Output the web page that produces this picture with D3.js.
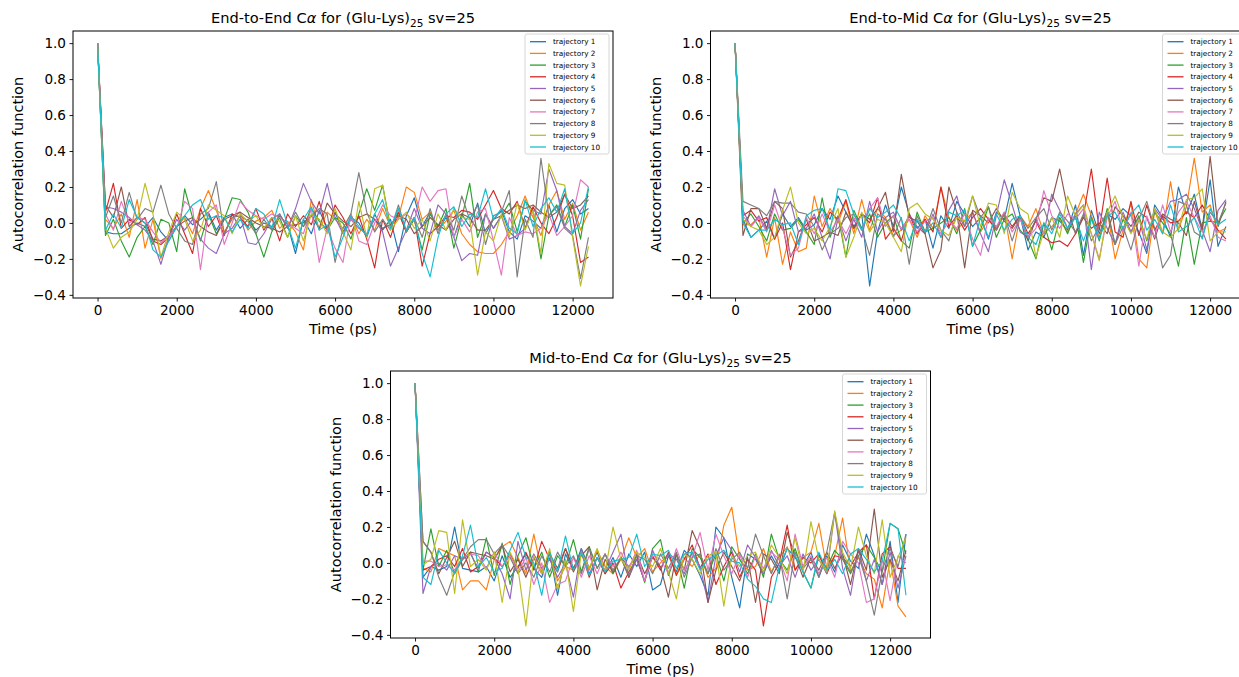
<!DOCTYPE html>
<html>
<head>
<meta charset="utf-8">
<script src="https://cdn.jsdelivr.net/npm/d3@7"></script>
<style>
  body { margin: 0; background: #fff; overflow: hidden; }
  svg { display: block; font-family: "DejaVu Sans", sans-serif; }
</style>
</head>
<body>
<svg id="chart" width="1239" height="677"></svg>
<script>
// sample times (ps), one point every 200 ps
const times = d3.range(0, 12600, 200);
const trajNames = ["trajectory 1", "trajectory 2", "trajectory 3", "trajectory 4", "trajectory 5",
  "trajectory 6", "trajectory 7", "trajectory 8", "trajectory 9", "trajectory 10"];
const xTicks = [0, 2000, 4000, 6000, 8000, 10000, 12000];
const yTicks = [-0.4, -0.2, 0.0, 0.2, 0.4, 0.6, 0.8, 1.0];

// End-to-End
const endEnd1 = [1.0,
  -0.05, -0.06, -0.06, -0.03, 0.00, -0.02, 0.03, -0.05, -0.10, -0.02,
  0.04, -0.01, 0.02, 0.06, -0.04, 0.03, 0.05, -0.03, 0.02, -0.04,
  0.00, -0.02, 0.04, -0.01, -0.17, 0.02, -0.06, 0.07, -0.03, 0.06,
  -0.05, 0.03, 0.00, -0.08, 0.05, -0.04, 0.02, -0.16, 0.04, 0.14,
  -0.02, 0.06, -0.04, 0.03, -0.08, 0.05, -0.02, 0.11, -0.06, 0.02,
  0.07, -0.05, -0.09, 0.04, 0.01, -0.03, 0.10, -0.05, 0.08, 0.13,
  0.05, 0.08];
const endEnd2 = [1.0,
  0.02, -0.03, 0.05, -0.08, 0.13, -0.14, 0.02, -0.20, -0.08, -0.02,
  0.03, -0.06, 0.08, 0.18, 0.07, -0.05, 0.02, 0.06, -0.04, 0.01,
  0.03, 0.07, -0.03, 0.01, -0.05, -0.15, 0.13, -0.04, 0.06, 0.02,
  -0.03, 0.05, -0.06, 0.02, -0.04, 0.08, -0.02, 0.03, 0.20, 0.17,
  0.02, 0.06, -0.04, 0.01, 0.07, -0.06, -0.12, -0.16, -0.17, -0.17,
  -0.12, -0.05, 0.04, 0.15, 0.03, -0.07, 0.10, 0.18, 0.02, 0.11,
  -0.04, 0.06];
const endEnd3 = [1.0,
  -0.07, 0.02, -0.10, -0.19, -0.08, -0.02, -0.12, 0.02, 0.00, -0.16,
  0.19, 0.03, -0.10, 0.05, -0.06, 0.02, 0.14, 0.13, 0.06, -0.06,
  -0.19, -0.05, 0.03, -0.08, 0.04, -0.02, 0.08, 0.01, -0.04, 0.03,
  0.00, -0.09, 0.05, 0.19, 0.07, 0.21, -0.02, 0.06, -0.05, 0.02,
  -0.15, 0.05, -0.02, 0.08, -0.14, 0.03, 0.22, -0.08, 0.05, -0.03,
  0.04, 0.11, -0.05, 0.12, 0.07, -0.20, 0.04, 0.10, -0.02, 0.10,
  -0.09, 0.19];
const endEnd4 = [1.0,
  0.06, 0.22, -0.03, 0.02, -0.01, 0.03, -0.10, -0.12, -0.08, 0.05,
  -0.06, -0.17, 0.08, -0.02, 0.04, -0.07, 0.05, 0.03, -0.02, 0.08,
  -0.04, 0.03, -0.10, 0.05, -0.02, 0.04, -0.01, 0.12, -0.05, 0.10,
  0.03, -0.06, 0.04, -0.09, -0.25, 0.02, -0.08, 0.06, -0.05, 0.03,
  -0.24, -0.06, -0.02, 0.04, 0.03, 0.07, 0.06, 0.02, 0.10, 0.18,
  0.08, 0.05, 0.12, -0.03, 0.09, 0.00, -0.06, 0.03, 0.16, 0.04,
  -0.22, -0.19];
const endEnd5 = [1.0,
  0.09, 0.08, 0.06, 0.03, -0.01, -0.04, -0.10, -0.23, -0.08, 0.02,
  -0.04, 0.02, -0.09, -0.14, -0.17, -0.06, -0.03, 0.04, -0.11, -0.12,
  -0.06, 0.02, 0.05, -0.03, 0.08, 0.22, 0.12, 0.05, 0.22, 0.03,
  -0.06, 0.02, -0.03, -0.06, 0.02, -0.05, -0.24, -0.14, -0.04, 0.08,
  -0.03, -0.06, 0.10, 0.05, -0.08, -0.21, -0.17, -0.18, 0.05, -0.03,
  0.04, -0.09, -0.07, -0.03, 0.07, 0.05, 0.30, 0.18, -0.02, -0.06,
  0.07, 0.13];
const endEnd6 = [1.0,
  0.10, 0.03, 0.20, -0.02, 0.03, 0.00, -0.09, -0.10, -0.07, -0.02,
  0.01, 0.03, -0.02, -0.05, -0.07, 0.02, 0.04, 0.06, 0.03, 0.00,
  -0.02, -0.03, -0.05, -0.02, -0.01, 0.00, 0.04, -0.03, 0.11, 0.05,
  0.01, -0.02, 0.03, 0.05, 0.02, -0.03, -0.01, 0.04, 0.02, -0.06,
  -0.02, 0.03, -0.01, -0.04, 0.02, 0.05, 0.03, -0.04, -0.04, 0.02,
  0.04, 0.07, 0.10, 0.08, 0.10, 0.06, 0.03, 0.06, 0.16, 0.08,
  0.10, 0.15];
const endEnd7 = [1.0,
  0.05, -0.04, 0.12, 0.00, 0.03, 0.02, -0.05, -0.11, -0.07, -0.03,
  0.12, 0.08, -0.26, 0.06, 0.10, -0.12, 0.00, 0.12, 0.07, 0.04,
  0.02, 0.05, 0.03, 0.00, -0.03, -0.06, 0.08, -0.22, -0.03, -0.14,
  -0.22, 0.05, -0.10, -0.12, 0.00, 0.10, 0.04, 0.02, 0.05, 0.01,
  0.20, 0.12, 0.18, 0.19, -0.08, 0.02, -0.05, 0.06, 0.08, -0.10,
  -0.29, 0.03, -0.07, -0.05, -0.06, -0.03, 0.05, -0.07, -0.02, 0.04,
  0.24, 0.20];
const endEnd8 = [1.0,
  0.03, 0.15, 0.00, 0.17, 0.02, 0.08, 0.06, 0.21, 0.05, -0.03,
  -0.10, -0.12, 0.05, 0.08, 0.23, -0.06, 0.03, 0.04, 0.01, -0.06,
  0.02, -0.04, 0.05, -0.03, 0.06, -0.02, 0.04, 0.08, 0.05, -0.22,
  -0.03, 0.05, 0.28, 0.06, -0.05, 0.02, -0.04, 0.10, -0.05, 0.03,
  -0.08, 0.08, -0.06, 0.05, -0.04, 0.15, 0.02, 0.10, -0.12, 0.04,
  0.06, 0.18, -0.30, 0.02, -0.08, 0.36, 0.04, 0.09, -0.03, -0.07,
  -0.31, -0.08];
const endEnd9 = [1.0,
  -0.03, -0.14, -0.08, -0.05, 0.02, 0.22, 0.05, -0.19, -0.05, 0.06,
  0.02, -0.10, -0.04, 0.10, 0.07, 0.04, -0.06, 0.05, 0.01, 0.04,
  -0.03, 0.03, 0.01, -0.08, 0.04, -0.10, 0.05, 0.02, -0.06, 0.08,
  -0.05, -0.15, 0.12, -0.08, 0.19, 0.21, -0.04, 0.02, 0.06, -0.03,
  0.02, -0.10, 0.05, -0.04, 0.08, 0.03, 0.02, -0.29, -0.05, -0.10,
  0.05, -0.08, 0.11, -0.04, 0.07, -0.17, 0.33, 0.22, 0.21, -0.08,
  -0.35, -0.13];
const endEnd10 = [1.0,
  -0.04, 0.05, -0.03, 0.13, 0.03, 0.00, -0.15, -0.19, -0.10, -0.02,
  0.04, 0.10, 0.13, 0.02, 0.04, 0.03, -0.05, 0.02, -0.03, 0.08,
  0.05, -0.03, 0.13, -0.01, -0.14, 0.02, 0.09, -0.04, -0.01, -0.19,
  -0.08, 0.04, -0.02, -0.07, 0.05, 0.13, -0.03, 0.08, -0.04, 0.03,
  -0.17, -0.30, -0.08, 0.05, 0.09, -0.02, 0.05, 0.03, 0.19, 0.02,
  0.08, -0.03, -0.06, 0.13, -0.02, 0.08, 0.14, 0.06, 0.19, -0.06,
  0.00, 0.20];

// End-to-Mid
const endMid1 = [1.0,
  0.02, -0.08, -0.04, 0.01, -0.09, 0.05, -0.02, 0.03, -0.04, -0.01,
  0.08, 0.02, 0.15, 0.06, -0.02, 0.05, -0.35, -0.05, 0.10, -0.02,
  0.20, 0.05, -0.03, 0.02, -0.14, 0.04, -0.03, 0.12, 0.05, -0.02,
  0.03, -0.09, 0.06, 0.02, 0.22, 0.04, -0.15, -0.05, -0.08, 0.03,
  0.01, -0.04, 0.10, -0.18, 0.07, -0.06, 0.05, 0.02, 0.08, 0.04,
  -0.05, -0.17, 0.10, 0.03, -0.08, 0.20, 0.05, 0.16, -0.04, 0.24,
  -0.13, -0.02];
const endMid2 = [1.0,
  -0.01, -0.01, 0.03, -0.19, 0.03, -0.23, -0.05, -0.16, -0.14, 0.15,
  -0.02, 0.08, 0.00, 0.12, -0.06, 0.13, -0.04, 0.08, 0.03, -0.07,
  -0.04, 0.02, -0.08, 0.04, -0.03, 0.20, 0.03, -0.04, 0.01, 0.06,
  -0.05, 0.02, -0.03, 0.06, -0.20, 0.04, -0.02, 0.08, -0.06, -0.02,
  0.03, -0.05, 0.05, 0.16, 0.04, -0.08, 0.07, -0.20, -0.04, 0.11,
  -0.20, -0.25, 0.07, -0.06, 0.23, -0.04, 0.09, 0.36, 0.06, 0.10,
  -0.05, -0.03];
const endMid3 = [1.0,
  0.00, 0.05, -0.02, -0.10, 0.05, -0.04, -0.03, 0.02, -0.05, -0.12,
  0.14, -0.08, 0.04, -0.19, 0.07, -0.03, 0.05, -0.08, 0.00, 0.04,
  -0.10, -0.14, 0.06, -0.05, -0.03, 0.00, 0.03, -0.06, 0.08, -0.13,
  -0.04, 0.09, -0.08, 0.02, 0.05, -0.04, -0.09, -0.20, 0.00, -0.15,
  0.03, -0.06, 0.05, -0.22, 0.03, -0.10, 0.08, -0.12, 0.02, -0.05,
  0.04, -0.10, 0.06, 0.00, -0.06, -0.24, 0.03, -0.23, 0.00, 0.01,
  0.00, 0.08];
const endMid4 = [1.0,
  0.04, 0.07, 0.01, 0.03, -0.09, 0.00, -0.26, -0.05, -0.01, 0.03,
  -0.05, 0.06, 0.02, 0.13, -0.03, 0.05, 0.00, 0.14, -0.09, -0.03,
  -0.10, 0.05, -0.06, 0.02, -0.05, 0.20, -0.02, 0.04, -0.04, 0.03,
  0.08, 0.02, -0.04, 0.05, -0.02, 0.04, -0.06, 0.01, -0.08, -0.11,
  -0.10, -0.13, -0.06, 0.04, 0.30, -0.04, 0.25, -0.05, -0.08, 0.12,
  -0.07, 0.10, -0.04, 0.04, 0.00, 0.01, 0.06, 0.03, 0.10, 0.02,
  -0.04, -0.09];
const endMid5 = [1.0,
  0.07, -0.02, 0.04, -0.04, 0.19, 0.04, 0.12, -0.05, -0.03, 0.05,
  -0.08, -0.20, 0.03, -0.10, 0.02, -0.08, 0.12, -0.05, 0.03, 0.06,
  -0.04, 0.04, -0.02, -0.06, 0.05, -0.08, 0.07, 0.15, -0.02, 0.06,
  -0.06, -0.16, 0.04, 0.24, 0.10, -0.05, -0.08, 0.02, -0.06, 0.16,
  0.07, -0.03, 0.05, 0.10, -0.26, 0.06, -0.03, -0.12, 0.06, -0.05,
  0.03, -0.15, 0.08, 0.02, 0.12, 0.13, 0.16, 0.08, -0.04, -0.16,
  0.07, 0.13];
const endMid6 = [1.0,
  -0.07, 0.08, 0.08, -0.03, 0.12, 0.08, -0.19, -0.10, 0.02, -0.10,
  -0.08, -0.05, -0.07, 0.06, -0.03, 0.05, 0.02, 0.08, 0.17, -0.05,
  0.27, 0.03, 0.01, -0.06, -0.25, -0.15, 0.20, 0.06, -0.25, 0.07,
  0.04, 0.00, 0.08, 0.01, -0.03, 0.04, -0.10, 0.02, 0.14, 0.12,
  0.30, 0.08, -0.06, 0.03, -0.03, 0.00, -0.06, 0.09, 0.04, -0.02,
  0.06, 0.03, -0.09, 0.05, 0.02, 0.00, -0.07, 0.12, -0.04, 0.37,
  -0.02, 0.12];
const endMid7 = [1.0,
  0.04, -0.02, 0.03, -0.05, 0.10, -0.03, -0.18, -0.14, 0.03, -0.06,
  0.05, -0.05, 0.02, -0.06, 0.03, -0.04, 0.08, 0.14, -0.02, 0.04,
  -0.03, 0.02, -0.05, 0.01, 0.03, -0.06, 0.01, -0.03, 0.05, -0.09,
  -0.18, 0.03, -0.02, 0.06, -0.05, 0.02, -0.08, -0.03, 0.18, 0.04,
  -0.03, 0.05, 0.02, 0.08, -0.06, -0.20, 0.03, 0.12, -0.05, 0.06,
  -0.24, 0.04, -0.08, 0.10, -0.05, 0.06, 0.12, 0.03, -0.05, 0.04,
  -0.08, -0.10];
const endMid8 = [1.0,
  0.12, 0.10, 0.08, 0.04, 0.12, 0.11, 0.11, 0.06, 0.05, -0.02,
  -0.15, -0.06, -0.03, 0.03, 0.05, -0.03, -0.18, 0.05, 0.02, -0.08,
  0.03, -0.23, 0.04, -0.05, 0.08, -0.04, -0.10, 0.06, -0.02, 0.15,
  0.03, 0.09, -0.04, 0.05, -0.10, 0.04, -0.03, 0.03, 0.08, -0.04,
  0.06, 0.01, -0.05, 0.05, -0.10, -0.02, 0.06, -0.12, -0.02, -0.15,
  0.02, 0.12, -0.03, -0.25, -0.18, 0.12, 0.10, -0.05, -0.08, 0.06,
  0.00, 0.11];
const endMid9 = [1.0,
  0.02, -0.02, -0.04, -0.12, -0.08, 0.07, 0.20, 0.00, -0.06, -0.03,
  -0.10, -0.02, 0.08, -0.19, -0.08, 0.06, -0.05, 0.02, 0.00, -0.08,
  -0.16, 0.08, 0.11, 0.05, 0.02, -0.04, -0.07, 0.03, 0.01, 0.15,
  -0.02, 0.11, 0.10, -0.06, 0.17, 0.08, 0.05, -0.19, -0.05, 0.03,
  -0.08, 0.15, 0.04, 0.10, -0.06, -0.21, 0.06, 0.15, 0.03, -0.06,
  0.02, -0.09, 0.08, -0.05, -0.08, -0.03, 0.13, 0.14, 0.19, -0.10,
  -0.05, -0.05];
const endMid10 = [1.0,
  0.00, -0.08, -0.04, -0.04, 0.02, -0.01, 0.00, -0.12, 0.04, 0.07,
  0.08, -0.04, 0.19, 0.18, 0.05, -0.04, 0.08, 0.03, 0.06, 0.10,
  0.02, -0.10, 0.02, -0.05, 0.00, -0.08, 0.06, 0.04, 0.07, -0.13,
  0.03, -0.08, 0.05, -0.04, 0.02, 0.04, -0.08, -0.12, 0.00, -0.06,
  0.05, -0.03, 0.03, -0.10, 0.02, -0.09, 0.04, 0.06, -0.03, 0.05,
  0.10, -0.04, 0.02, -0.06, 0.10, -0.05, -0.02, 0.03, -0.09, 0.08,
  -0.01, 0.02];

// Mid-to-End
const midEnd1 = [1.0,
  -0.08, -0.02, -0.04, -0.02, 0.20, -0.03, -0.04, -0.05, -0.02, -0.10,
  0.04, -0.08, -0.02, 0.05, -0.03, -0.08, 0.06, -0.18, 0.05, -0.04,
  0.08, -0.03, 0.06, -0.06, 0.03, -0.08, 0.05, -0.02, 0.06, -0.15,
  -0.12, 0.04, -0.05, 0.07, 0.02, -0.07, -0.18, 0.20, 0.14, -0.08,
  -0.25, 0.05, 0.02, -0.06, 0.04, -0.04, 0.08, 0.03, -0.02, 0.06,
  -0.08, 0.04, -0.05, 0.10, 0.01, -0.03, 0.16, 0.04, -0.12, 0.12,
  -0.22, 0.16];
const midEnd2 = [1.0,
  -0.03, -0.05, 0.08, 0.06, 0.04, -0.15, -0.10, -0.10, -0.15, 0.02,
  0.09, 0.12, 0.03, -0.06, 0.16, -0.05, 0.06, -0.10, -0.02, -0.04,
  0.05, -0.04, 0.07, -0.02, -0.06, 0.02, 0.14, 0.03, 0.08, -0.05,
  0.00, 0.05, -0.06, 0.03, -0.02, 0.05, -0.08, -0.03, 0.21, 0.31,
  0.02, -0.04, -0.02, 0.08, -0.05, 0.03, 0.09, -0.04, 0.03, 0.06,
  0.22, -0.03, 0.04, 0.25, -0.05, 0.03, -0.06, -0.09, -0.25, 0.02,
  -0.24, -0.30];
const midEnd3 = [1.0,
  -0.04, 0.19, -0.02, 0.07, -0.06, 0.02, 0.06, -0.05, 0.14, -0.07,
  0.11, -0.12, 0.04, 0.14, -0.03, 0.06, -0.08, 0.04, -0.02, 0.13,
  -0.05, 0.09, -0.03, 0.05, -0.06, 0.03, -0.02, 0.04, -0.11, 0.08,
  0.13, -0.07, 0.05, -0.14, 0.08, 0.03, -0.06, 0.05, -0.10, 0.09,
  0.02, -0.06, 0.05, -0.08, 0.16, 0.02, -0.04, 0.08, -0.05, -0.14,
  0.04, -0.03, 0.07, 0.02, -0.06, 0.04, 0.10, 0.03, -0.05, 0.22,
  0.19, 0.05];
const midEnd4 = [1.0,
  -0.04, -0.02, 0.02, 0.04, -0.02, 0.08, -0.05, -0.02, 0.06, 0.03,
  -0.02, 0.05, -0.03, 0.06, -0.04, 0.12, 0.02, -0.05, 0.08, -0.03,
  0.06, -0.08, 0.03, -0.06, 0.00, -0.14, -0.05, 0.02, -0.10, 0.04,
  -0.04, 0.06, -0.07, 0.02, 0.10, -0.03, 0.05, -0.12, -0.02, 0.06,
  -0.08, 0.02, -0.04, -0.35, -0.08, 0.00, 0.21, -0.04, 0.03, 0.00,
  0.05, -0.06, 0.04, 0.03, -0.02, 0.06, 0.10, -0.20, 0.05, 0.09,
  -0.03, -0.03];
const midEnd5 = [1.0,
  -0.17, -0.02, 0.00, -0.04, 0.04, 0.02, 0.05, -0.03, 0.06, 0.03,
  -0.06, -0.20, 0.12, -0.04, 0.05, -0.03, 0.02, -0.08, 0.00, -0.19,
  0.08, -0.06, 0.03, -0.04, 0.06, 0.16, -0.08, 0.02, -0.10, 0.07,
  -0.03, 0.05, 0.02, -0.06, 0.06, -0.02, -0.22, 0.04, 0.14, 0.07,
  -0.05, 0.10, 0.03, -0.06, 0.07, -0.02, 0.04, -0.08, 0.05, -0.04,
  0.02, -0.06, 0.28, -0.03, -0.18, 0.08, -0.10, 0.02, -0.12, 0.06,
  -0.14, 0.04];
const midEnd6 = [1.0,
  0.12, 0.06, -0.06, 0.03, 0.12, -0.02, 0.06, 0.05, 0.04, 0.02,
  0.10, -0.05, 0.02, -0.08, 0.03, -0.06, 0.05, -0.03, 0.08, -0.05,
  0.04, 0.09, -0.15, 0.02, -0.05, 0.03, -0.08, 0.05, -0.06, 0.03,
  -0.02, -0.19, 0.05, -0.04, 0.18, 0.08, -0.22, -0.04, 0.06, -0.02,
  -0.10, 0.03, -0.22, 0.05, 0.02, -0.06, 0.17, 0.04, -0.08, 0.03,
  -0.04, 0.06, -0.03, 0.05, -0.12, 0.08, -0.04, 0.30, -0.08, 0.02,
  -0.10, 0.07];
const midEnd7 = [1.0,
  0.01, 0.01, -0.02, -0.01, -0.04, 0.03, 0.05, 0.04, -0.03, 0.06,
  -0.02, 0.04, -0.05, 0.03, -0.12, 0.00, -0.22, -0.12, -0.10, 0.03,
  -0.08, 0.04, -0.06, 0.05, -0.02, 0.06, -0.03, 0.07, -0.10, 0.04,
  0.02, -0.06, 0.08, -0.04, 0.03, 0.17, -0.04, 0.16, 0.04, -0.06,
  0.05, -0.08, 0.04, -0.03, 0.06, 0.02, -0.10, 0.16, -0.02, 0.04,
  -0.06, 0.03, -0.08, 0.12, 0.05, 0.00, -0.22, -0.20, 0.02, -0.21,
  0.04, 0.00];
const midEnd8 = [1.0,
  0.12, 0.06, -0.08, -0.18, -0.05, 0.02, 0.09, 0.13, 0.13, 0.05,
  0.10, 0.03, -0.06, 0.00, -0.08, 0.04, -0.05, 0.06, -0.02, 0.04,
  -0.06, 0.08, -0.03, 0.05, -0.04, 0.03, -0.07, 0.04, 0.02, -0.06,
  0.05, -0.03, 0.06, -0.08, 0.03, 0.05, -0.06, 0.08, -0.04, 0.02,
  0.06, -0.03, 0.16, 0.04, -0.06, 0.05, -0.20, 0.06, -0.03, 0.02,
  -0.08, 0.06, 0.28, 0.03, -0.05, 0.04, -0.10, -0.29, -0.04, 0.08,
  -0.02, 0.16];
const midEnd9 = [1.0,
  -0.01, 0.02, 0.18, 0.17, -0.17, 0.24, -0.02, 0.02, -0.04, 0.06,
  -0.22, 0.06, -0.03, -0.35, 0.04, -0.06, 0.08, -0.15, 0.02, -0.27,
  0.06, -0.03, 0.08, -0.05, 0.20, 0.02, -0.04, 0.06, 0.03, -0.02,
  0.08, -0.05, -0.20, 0.05, 0.02, -0.06, 0.04, 0.06, -0.24, 0.04,
  -0.02, 0.04, 0.06, -0.05, 0.10, 0.03, -0.06, 0.14, -0.05, 0.23,
  0.02, -0.05, 0.29, 0.06, -0.03, 0.20, 0.04, -0.06, 0.24, -0.08,
  0.03, 0.14];
const midEnd10 = [1.0,
  -0.08, -0.12, 0.07, 0.00, -0.06, 0.04, 0.21, -0.02, 0.03, -0.05,
  -0.03, 0.07, 0.17, 0.03, 0.00, -0.18, 0.06, -0.05, 0.15, -0.04,
  0.06, -0.07, 0.03, -0.05, 0.01, 0.02, 0.03, 0.16, -0.02, 0.05,
  0.04, 0.07, -0.03, 0.05, 0.06, -0.04, 0.02, 0.04, 0.07, 0.01,
  0.00, -0.09, -0.13, -0.20, -0.22, -0.02, 0.08, 0.04, -0.05, -0.14,
  0.06, -0.04, 0.02, -0.06, 0.05, 0.08, 0.02, -0.05, 0.01, 0.22,
  0.19, -0.18];

const colors = ["#1f77b4", "#ff7f0e", "#2ca02c", "#d62728", "#9467bd",
  "#8c564b", "#e377c2", "#7f7f7f", "#bcbd22", "#17becf"];

const panels = [
  { title: "End-to-End", left: 73, top: 31,
    series: [endEnd1, endEnd2, endEnd3, endEnd4, endEnd5, endEnd6, endEnd7, endEnd8, endEnd9, endEnd10] },
  { title: "End-to-Mid", left: 710.5, top: 31,
    series: [endMid1, endMid2, endMid3, endMid4, endMid5, endMid6, endMid7, endMid8, endMid9, endMid10] },
  { title: "Mid-to-End", left: 390.5, top: 371,
    series: [midEnd1, midEnd2, midEnd3, midEnd4, midEnd5, midEnd6, midEnd7, midEnd8, midEnd9, midEnd10] }
];

const width = 540, height = 267;
const svg = d3.select("#chart");
const fmtY = d => d.toFixed(1).replace("-", "\u2212");

panels.forEach(p => {
  const g = svg.append("g").attr("transform", `translate(${p.left},${p.top})`);

  // matplotlib-style 5% margins
  const tMax = d3.max(times);
  const allVals = p.series.flat();
  const [vMin, vMax] = d3.extent(allVals);
  const xPad = tMax * 0.05, yPad = (vMax - vMin) * 0.05;

  const x = d3.scaleLinear().domain([-xPad, tMax + xPad]).range([0, width]);
  const y = d3.scaleLinear().domain([vMin - yPad, vMax + yPad]).range([height, 0]);

  const line = d3.line()
    .x((d, i) => x(times[i]))
    .y(d => y(d));

  g.selectAll(".traj")
    .data(p.series)
    .enter()
    .append("path")
    .attr("class", "traj")
    .attr("d", line)
    .attr("fill", "none")
    .attr("stroke", (d, i) => colors[i])
    .attr("stroke-width", 1.15)
    .attr("stroke-linejoin", "round");

  const xAxis = g.append("g")
    .attr("transform", `translate(0,${height})`)
    .call(d3.axisBottom(x).tickValues(xTicks).tickSize(3.5).tickPadding(3.5).tickFormat(d3.format("d")));
  const yAxis = g.append("g")
    .call(d3.axisLeft(y).tickValues(yTicks).tickSize(3.5).tickPadding(3.5).tickFormat(fmtY));

  [xAxis, yAxis].forEach(ax => {
    ax.select(".domain").remove();
    ax.selectAll(".tick line").attr("stroke", "#000").attr("stroke-width", 0.9);
    ax.selectAll(".tick text")
      .attr("fill", "#000")
      .style("font-family", "'DejaVu Sans', sans-serif")
      .style("font-size", "13.6px");
  });

  // frame
  g.append("rect")
    .attr("width", width)
    .attr("height", height)
    .attr("fill", "none")
    .attr("stroke", "#000")
    .attr("stroke-width", 1);

  // title
  const title = g.append("text")
    .attr("x", width / 2)
    .attr("y", -8)
    .attr("text-anchor", "middle")
    .style("font-size", "14.6px");
  title.append("tspan").text(p.title + " C");
  title.append("tspan").attr("font-style", "italic").text("\u03b1");
  title.append("tspan").text(" for (Glu-Lys)");
  title.append("tspan").attr("dy", 4).style("font-size", "10.5px").text("25");
  title.append("tspan").attr("dy", -4).text(" sv=25");

  g.append("text")
    .attr("x", width / 2)
    .attr("y", height + 36)
    .attr("text-anchor", "middle")
    .style("font-size", "14.5px")
    .text("Time (ps)");

  g.append("text")
    .attr("transform", `translate(-50,${height / 2}) rotate(-90)`)
    .attr("text-anchor", "middle")
    .style("font-size", "14.5px")
    .text("Autocorrelation function");

  // legend
  const legW = 84, legH = 120;
  const legend = g.append("g")
    .attr("transform", `translate(${width - 4 - legW},3)`);
  legend.append("rect")
    .attr("width", legW)
    .attr("height", legH)
    .attr("rx", 2)
    .attr("fill", "#fff")
    .attr("fill-opacity", 0.8)
    .attr("stroke", "#ccc")
    .attr("stroke-width", 0.8);

  trajNames.forEach((name, i) => {
    const ly = 7.7 + i * 11.7;
    legend.append("line")
      .attr("x1", 5).attr("x2", 21)
      .attr("y1", ly).attr("y2", ly)
      .attr("stroke", colors[i])
      .attr("stroke-width", 1.3);
    legend.append("text")
      .attr("x", 28)
      .attr("y", ly)
      .attr("dy", "0.35em")
      .style("font-size", "7.3px")
      .text(name);
  });
});
</script>
</body>
</html>
